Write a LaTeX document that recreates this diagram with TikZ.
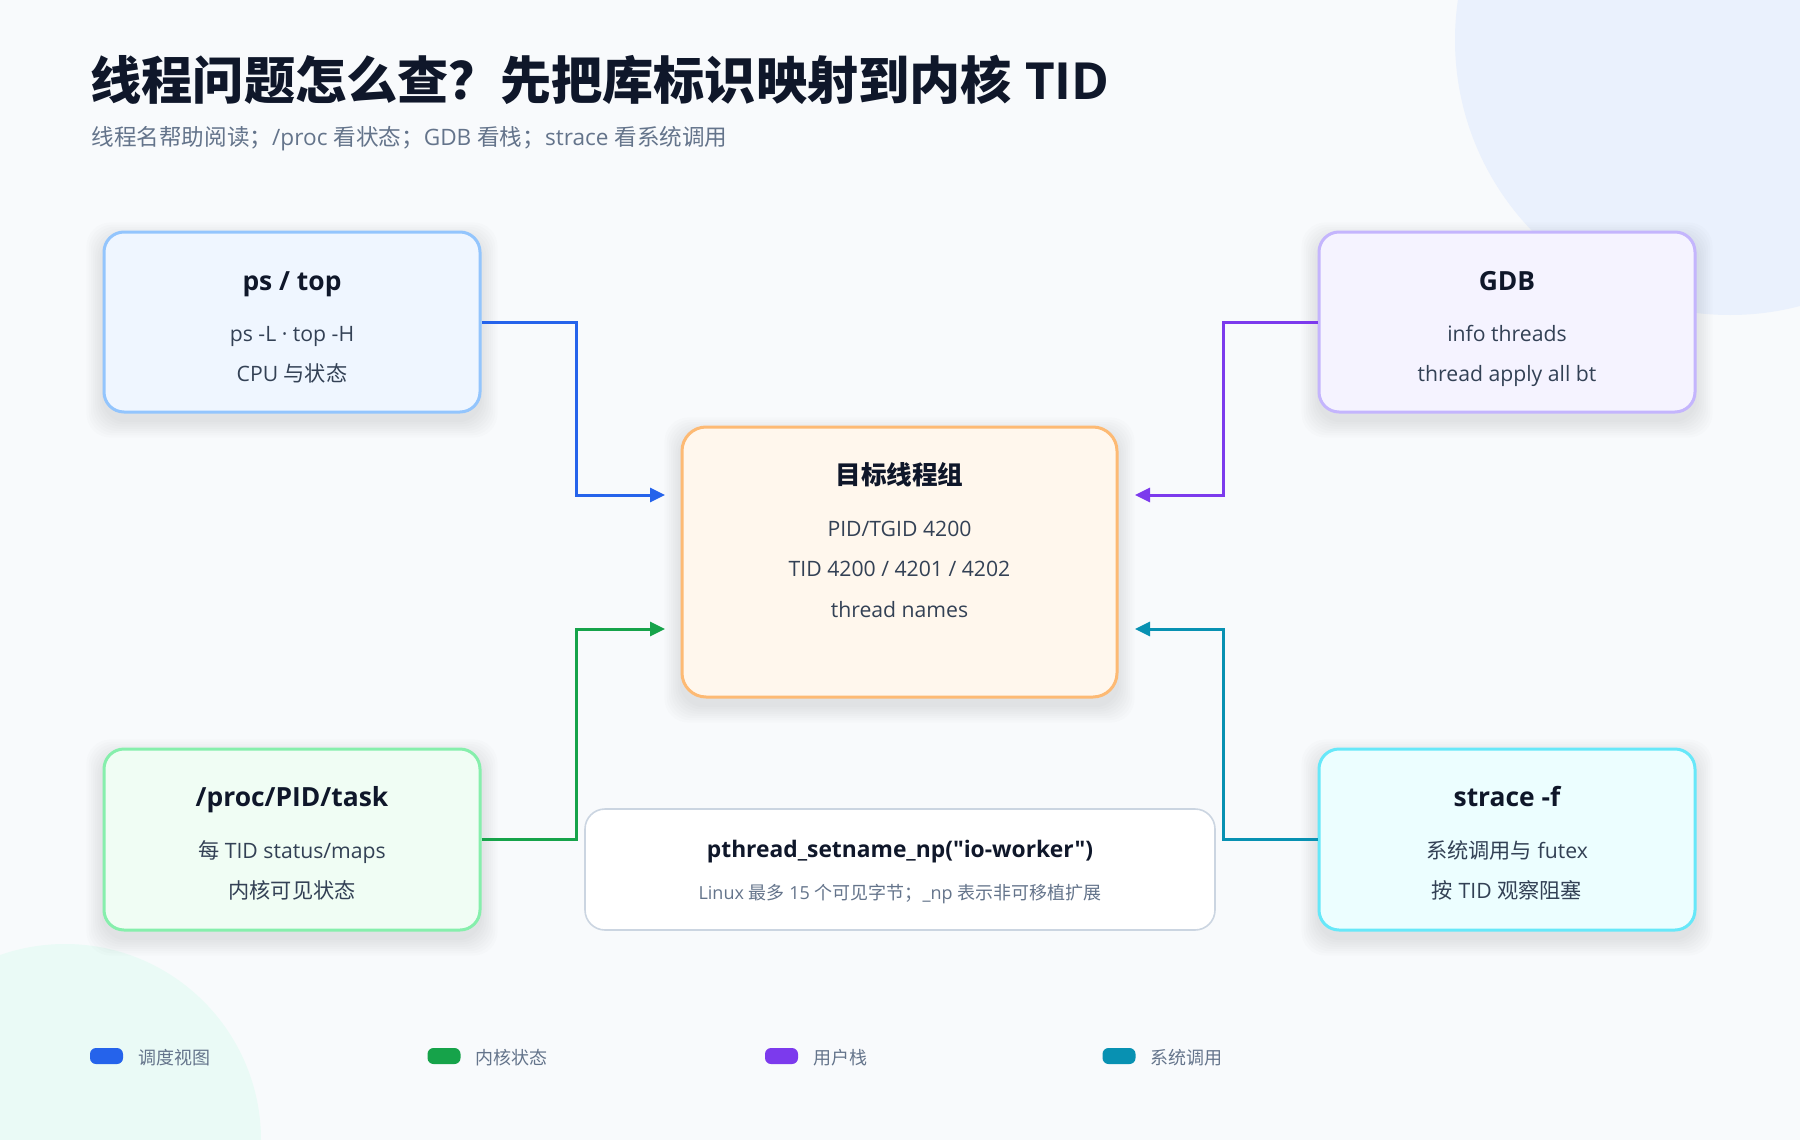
\documentclass[tikz,border=0pt]{standalone}
\usepackage{fontspec}
\setmainfont{Open Sans}[Ligatures=TeXOff]
\newfontfamily\cjk{Noto Sans CJK SC}[Ligatures=TeXOff]
\usetikzlibrary{arrows.meta,calc}
\definecolor{bg}{HTML}{F8FAFC}
\definecolor{decoblue}{HTML}{EAF1FD}
\definecolor{decomint}{HTML}{EAFAF6}
\definecolor{ink}{HTML}{0F172A}
\definecolor{bodytxt}{HTML}{334155}
\definecolor{muted}{HTML}{64748B}
\definecolor{cblue}{HTML}{2563EB}
\definecolor{cgreen}{HTML}{16A34A}
\definecolor{cpurple}{HTML}{7C3AED}
\definecolor{cteal}{HTML}{0891B2}
\definecolor{psfill}{HTML}{EFF6FF}
\definecolor{psdraw}{HTML}{93C5FD}
\definecolor{gdbfill}{HTML}{F5F3FF}
\definecolor{gdbdraw}{HTML}{C4B5FD}
\definecolor{procfill}{HTML}{F0FDF4}
\definecolor{procdraw}{HTML}{86EFAC}
\definecolor{stfill}{HTML}{ECFEFF}
\definecolor{stdraw}{HTML}{67E8F9}
\definecolor{tgfill}{HTML}{FFF7ED}
\definecolor{tgdraw}{HTML}{FDBA74}
\definecolor{notedraw}{HTML}{CBD5E1}
\newcommand\cardshadow[4]{%
  \foreach \k in {1,...,8}{%
    \fill[black,opacity=0.010,rounded corners=12pt]
      ({#1-\k*2.2},{#2-\k*2.2+8}) rectangle ({#3+\k*2.2},{#4+\k*2.2+8});}}
\begin{document}
\begin{tikzpicture}[x=0.5pt,y=-0.5pt,
  card/.style={rectangle,rounded corners=10pt,line width=1.5pt,inner sep=0pt},
  smallcard/.style={card,minimum width=188pt,minimum height=90pt},
  ttl/.style={anchor=base,inner sep=0pt,text=ink,font=\bfseries\fontsize{13.2}{15}\selectfont},
  bodyline/.style={anchor=base,inner sep=0pt,text=bodytxt,font=\fontsize{10.6}{12}\selectfont},
  conn/.style={line width=1.5pt,-{Triangle[length=7.5pt,width=7pt]}},
  legsq/.style={rectangle,rounded corners=3pt,minimum width=16.5pt,minimum height=8pt,inner sep=0pt},
  legtxt/.style={anchor=west,inner sep=0pt,text=muted,font=\cjk\fontsize{9}{11}\selectfont}]
\useasboundingbox (0,0) rectangle (1800,1140);
\fill[bg] (0,0) rectangle (1800,1140);
\begin{scope}
  \clip (0,0) rectangle (1800,1140);
  \fill[decoblue] (1730,40) circle[radius=275];
  \fill[decomint] (65,1140) circle[radius=196];
\end{scope}

% title
\node[anchor=west,inner sep=0pt,text=ink,font=\bfseries\fontsize{25.6}{30}\selectfont] (title) at (90,80) {{\cjk 线程问题怎么查？先把库标识映射到内核} TID};
\node[anchor=west,inner sep=0pt,text=muted,font=\fontsize{11.3}{13}\selectfont] (subtitle) at (91,139) {{\cjk 线程名帮助阅读；}/proc {\cjk 看状态；}GDB {\cjk 看栈；}strace {\cjk 看系统调用}};

% shadows
\cardshadow{104}{232}{480}{412}
\cardshadow{1319}{232}{1695}{412}
\cardshadow{104}{749}{480}{930}
\cardshadow{1319}{749}{1695}{930}
\cardshadow{682}{427}{1117}{697}

% cards
\node[smallcard,fill=psfill,draw=psdraw] (ps) at (292,322) {};
\node[smallcard,fill=gdbfill,draw=gdbdraw] (gdb) at (1507,322) {};
\node[smallcard,fill=procfill,draw=procdraw,minimum height=90.5pt] (proc) at (292,839.5) {};
\node[smallcard,fill=stfill,draw=stdraw,minimum height=90.5pt] (strace) at (1507,839.5) {};
\node[card,fill=tgfill,draw=tgdraw,minimum width=217.5pt,minimum height=135pt,rounded corners=12pt] (target) at (899.5,562) {};
\node[card,fill=white,draw=notedraw,line width=0.8pt,minimum width=315pt,minimum height=60.5pt,rounded corners=10pt] (note) at (900,869.5) {};

% card texts
\node[ttl] (psT) at (292,290) {ps / top};
\node[bodyline] (psA) at (292,341) {ps -L · top -H};
\node[bodyline] (psB) at (292,381) {CPU {\cjk 与状态}};

\node[ttl] (gdbT) at (1507,290) {GDB};
\node[bodyline] (gdbA) at (1507,341) {info threads};
\node[bodyline] (gdbB) at (1507,381) {thread apply all bt};

\node[ttl] (procT) at (292,806) {/proc/PID/task};
\node[bodyline] (procA) at (292,858) {{\cjk 每} TID status/maps};
\node[bodyline] (procB) at (292,898) {\cjk 内核可见状态};

\node[ttl] (stT) at (1507,806) {strace -f};
\node[bodyline] (stA) at (1507,858) {{\cjk 系统调用与} futex};
\node[bodyline] (stB) at (1507,898) {{\cjk 按} TID {\cjk 观察阻塞}};

\node[ttl,font=\cjk\bfseries\fontsize{12.8}{15}\selectfont] (tgT) at (899.5,484) {目标线程组};
\node[bodyline] (tgA) at (899.5,536) {PID/TGID 4200};
\node[bodyline] (tgB) at (899.5,576) {TID 4200 / 4201 / 4202};
\node[bodyline] (tgC) at (899.5,617) {thread names};

\node[anchor=base,inner sep=0pt,text=ink,font=\bfseries\fontsize{11.4}{14}\selectfont] (noteT) at (900,857) {pthread\_setname\_np("io-worker")};
\node[anchor=base,inner sep=0pt,text=muted,font=\fontsize{9}{11}\selectfont] (noteA) at (900,899) {Linux {\cjk 最多} 15 {\cjk 个可见字节；}\_np {\cjk 表示非可移植扩展}};

% connectors
\coordinate (jL) at (576,0);
\coordinate (jR) at (1223,0);
\coordinate (inL1) at (665,495);
\coordinate (inL2) at (665,629);
\coordinate (inR1) at (1135,495);
\coordinate (inR2) at (1135,629);
\draw[conn,cblue] (ps.east) -| (jL |- inL1) -- (inL1);
\draw[conn,cgreen] (proc.east) -| (jL |- inL2) -- (inL2);
\draw[conn,cpurple] (gdb.west) -| (jR |- inR1) -- (inR1);
\draw[conn,cteal] (strace.west) -| (jR |- inR2) -- (inR2);

% legend
\node[legsq,fill=cblue] (lg1) at (106.5,1056) {};
\node[legtxt] (lt1) at (138,1058) {调度视图};
\node[legsq,fill=cgreen] (lg2) at (444,1056) {};
\node[legtxt] (lt2) at (475.5,1058) {内核状态};
\node[legsq,fill=cpurple] (lg3) at (781.5,1056) {};
\node[legtxt] (lt3) at (813,1058) {用户栈};
\node[legsq,fill=cteal] (lg4) at (1119,1056) {};
\node[legtxt] (lt4) at (1150.5,1058) {系统调用};
\end{tikzpicture}
\end{document}
